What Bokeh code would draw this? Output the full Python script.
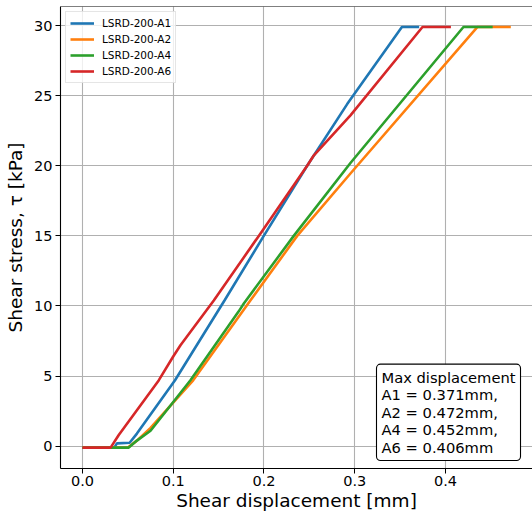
from bokeh.plotting import figure
from bokeh.models import Range1d, FixedTicker, PrintfTickFormatter, Span, Label
from bokeh.embed import file_html
from bokeh.resources import INLINE

FONT = "DejaVu Sans"

# --- data -------------------------------------------------------------------
a1_x = [0.0, 0.035, 0.038, 0.052, 0.060, 0.102, 0.1565, 0.1998, 0.2476, 0.2917, 0.352, 0.371]
a1_y = [-0.1, -0.1, 0.2, 0.25, 0.9, 4.7, 10.39, 15.0, 20.0, 24.4, 29.9, 29.9]

a2_x = [0.0, 0.050, 0.060, 0.075, 0.122, 0.185, 0.2366, 0.2953, 0.4353, 0.472]
a2_y = [-0.1, -0.1, 0.4, 1.3, 4.7, 10.39, 15.0, 19.45, 29.9, 29.9]

a4_x = [0.0, 0.051, 0.060, 0.075, 0.119, 0.172, 0.178, 0.2328, 0.2953, 0.4198, 0.452]
a4_y = [-0.1, -0.1, 0.4, 1.1, 4.7, 9.6, 10.2, 15.0, 20.2, 29.9, 29.9]

a6_x = [0.0, 0.031, 0.040, 0.084, 0.100, 0.108, 0.1447, 0.1943, 0.2476, 0.2545, 0.2953, 0.3747, 0.406]
a6_y = [-0.1, -0.1, 0.8, 4.69, 6.4, 7.2, 10.39, 15.0, 20.0, 20.7, 23.6, 29.9, 29.9]

series_names = ["LSRD-200-A1", "LSRD-200-A2", "LSRD-200-A4", "LSRD-200-A6"]
series_colors = ["#1f77b4", "#ff7f0e", "#2ca02c", "#d62728"]

x_ticks = [0.0, 0.1, 0.2, 0.3, 0.4]
y_ticks = [0, 5, 10, 15, 20, 25, 30]

note = "Max displacement\nA1 = 0.371mm,\nA2 = 0.472mm,\nA4 = 0.452mm,\nA6 = 0.406mm"

# --- figure -----------------------------------------------------------------
p = figure(width=532, height=515, output_backend="svg", toolbar_location=None,
           x_range=Range1d(-0.0242, 0.4959), y_range=Range1d(-1.59, 31.36),
           min_border_left=60, min_border_top=6, min_border_right=0, min_border_bottom=47)
p.outline_line_color = None
p.background_fill_color = "white"
p.border_fill_color = "white"

for xs, ys, name, col in zip([a1_x, a2_x, a4_x, a6_x], [a1_y, a2_y, a4_y, a6_y],
                            series_names, series_colors):
    p.line(xs, ys, line_color=col, line_width=2.6, legend_label=name)

# top spine
p.add_layout(Span(location=31.36, dimension="width", line_color="black", line_width=1.2))

for ax in (p.xaxis[0], p.yaxis[0]):
    ax.axis_line_color = "black"
    ax.axis_line_width = 1.1
    ax.major_tick_line_color = "black"
    ax.major_tick_in = 0
    ax.major_tick_out = 5
    ax.minor_tick_line_color = None
    ax.major_label_text_font = FONT
    ax.major_label_text_font_size = "14.5px"
    ax.major_label_text_color = "black"
    ax.axis_label_text_font = FONT
    ax.axis_label_text_font_size = "18.5px"
    ax.axis_label_text_font_style = "normal"
    ax.axis_label_text_color = "black"

p.xaxis[0].ticker = FixedTicker(ticks=x_ticks)
p.xaxis[0].formatter = PrintfTickFormatter(format="%.1f")
p.xaxis[0].axis_label = "Shear displacement [mm]"
p.xaxis[0].major_label_standoff = 2
p.xaxis[0].axis_label_standoff = 1

p.yaxis[0].ticker = FixedTicker(ticks=y_ticks)
p.yaxis[0].formatter = PrintfTickFormatter(format="%d")
p.yaxis[0].axis_label = "Shear stress, τ [kPa]"
p.yaxis[0].major_label_standoff = 3
p.yaxis[0].axis_label_standoff = 5

p.grid.grid_line_color = "#b0b0b0"
p.grid.grid_line_width = 1.1
p.xgrid.ticker = FixedTicker(ticks=x_ticks)
p.ygrid.ticker = FixedTicker(ticks=y_ticks)

lg = p.legend[0]
lg.location = "top_left"
lg.margin = 5
lg.padding = 4
lg.spacing = 2
lg.glyph_width = 24
lg.glyph_height = 14
lg.label_height = 14
lg.label_standoff = 8
lg.label_text_font = FONT
lg.label_text_font_size = "10.5px"
lg.label_text_color = "black"
lg.border_line_color = "#cccccc"
lg.border_line_width = 1
lg.background_fill_color = "white"
lg.background_fill_alpha = 0.8

lab = Label(x=0.324, y=-1.02, x_units="data", y_units="data", text=note,
            anchor="bottom_left", text_font=FONT, text_font_size="14.7px",
            text_color="black", text_line_height=1.02,
            border_line_color="black", border_line_width=1.1,
            background_fill_color="white", background_fill_alpha=1.0,
            padding=5, border_radius=4)
p.add_layout(lab)

open("out.html", "w").write(file_html(p, INLINE))
